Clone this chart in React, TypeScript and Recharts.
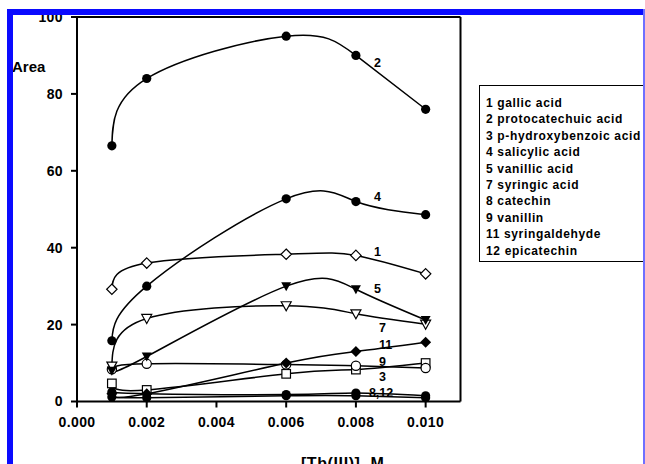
import { LineChart, Line, XAxis, YAxis, ReferenceLine, LabelList, Legend } from 'recharts'

// Th(III) concentration, M
const conc = [0.001, 0.002, 0.006, 0.008, 0.01]

// peak areas
const gallicAcid = [29.2, 36, 38.3, 38, 33.2]
const protocatechuicAcid = [66.5, 84, 95, 90, 76]
const hydroxybenzoicAcid = [4.7, 3, 7.2, 8.3, 10]
const salicylicAcid = [15.8, 30, 52.7, 52, 48.6]
const vanillicAcid = [8, 11.7, 30, 29.2, 21.2]
const syringicAcid = [9.2, 21.6, 24.9, 22.8, 20.1]
const catechin = [2.5, 2, 1.8, 2.2, 1.5]
const vanillin = [8.4, 9.8, 9.6, 9.3, 8.7]
const syringaldehyde = [2, 2, 10, 13, 15.4]
const epicatechin = [1.2, 1, 1.5, 1.5, 1]

const legendNames = [
  '1 gallic acid',
  '2 protocatechuic acid',
  '3 p-hydroxybenzoic acid',
  '4 salicylic acid',
  '5 vanillic acid',
  '7 syringic acid',
  '8 catechin',
  '9 vanillin',
  '11 syringaldehyde',
  '12 epicatechin',
]

const xTicks = [0, 0.002, 0.004, 0.006, 0.008, 0.01]
const yTicks = [0, 20, 40, 60, 80, 100]

type MarkerKind = 'dot' | 'ring' | 'diamond' | 'openDiamond' | 'tri' | 'openTri' | 'square'

// drawn bottom to top
const series: { key: string; values: number[]; marker: MarkerKind; tag?: string; dx?: number; dy?: number }[] = [
  { key: 's12', values: epicatechin, marker: 'dot' },
  { key: 's8', values: catechin, marker: 'dot', tag: '8,12', dx: 13, dy: -1 },
  { key: 's3', values: hydroxybenzoicAcid, marker: 'square', tag: '3', dx: 23, dy: 6 },
  { key: 's9', values: vanillin, marker: 'ring', tag: '9', dx: 23, dy: -5 },
  { key: 's11', values: syringaldehyde, marker: 'diamond', tag: '11', dx: 23, dy: -8 },
  { key: 's7', values: syringicAcid, marker: 'openTri', tag: '7', dx: 23, dy: 13 },
  { key: 's5', values: vanillicAcid, marker: 'tri', tag: '5', dx: 18, dy: -1 },
  { key: 's1', values: gallicAcid, marker: 'openDiamond', tag: '1', dx: 18, dy: -4 },
  { key: 's4', values: salicylicAcid, marker: 'dot', tag: '4', dx: 18, dy: -6 },
  { key: 's2', values: protocatechuicAcid, marker: 'dot', tag: '2', dx: 18, dy: 7 },
]

const data = conc.map((c, i) => {
  const row: Record<string, number> = { conc: c }
  series.forEach((s) => {
    row[s.key] = s.values[i]
  })
  return row
})

const FONT = '"Liberation Sans", Arial, sans-serif'

function Marker({ cx, cy, kind }: { cx?: number; cy?: number; kind: MarkerKind }) {
  if (cx == null || cy == null) return null
  const sw = 1.2
  switch (kind) {
    case 'dot':
      return <circle cx={cx} cy={cy} r={4.6} fill="#000" />
    case 'ring':
      return <circle cx={cx} cy={cy} r={4.6} fill="#fff" stroke="#000" strokeWidth={sw} />
    case 'diamond':
      return <polygon points={`${cx},${cy - 5.5} ${cx + 5.5},${cy} ${cx},${cy + 5.5} ${cx - 5.5},${cy}`} fill="#000" />
    case 'openDiamond':
      return (
        <polygon
          points={`${cx},${cy - 5.2} ${cx + 5.2},${cy} ${cx},${cy + 5.2} ${cx - 5.2},${cy}`}
          fill="#fff"
          stroke="#000"
          strokeWidth={sw}
        />
      )
    case 'tri':
      return <polygon points={`${cx - 5},${cy - 4} ${cx + 5},${cy - 4} ${cx},${cy + 5}`} fill="#000" />
    case 'openTri':
      return (
        <polygon
          points={`${cx - 5},${cy - 4} ${cx + 5},${cy - 4} ${cx},${cy + 5}`}
          fill="#fff"
          stroke="#000"
          strokeWidth={sw}
        />
      )
    case 'square':
      return <rect x={cx - 4.3} y={cy - 4.3} width={8.6} height={8.6} fill="#fff" stroke="#000" strokeWidth={sw} />
  }
  return null
}

function LegendBox() {
  return (
    <div
      style={{
        border: '1.5px solid #000',
        background: '#fff',
        padding: '9px 0 2px 6px',
        width: 180,
        fontFamily: FONT,
        fontWeight: 'bold',
        fontSize: 12,
        letterSpacing: 0.65,
        lineHeight: '16.4px',
        color: '#000',
        whiteSpace: 'nowrap',
        boxSizing: 'border-box',
      }}
    >
      {legendNames.map((n) => (
        <div key={n}>{n}</div>
      ))}
    </div>
  )
}

export default function App() {
  return (
    <div
      style={{
        position: 'absolute',
        left: 0,
        top: 0,
        width: 645,
        height: 464,
        background: '#fff',
        overflow: 'hidden',
      }}
    >
      <LineChart width={645} height={464} data={data} margin={{ top: 17, right: 184.5, bottom: 2.5, left: 17 }}>
        <XAxis
          dataKey="conc"
          type="number"
          domain={[0, 0.011]}
          ticks={xTicks}
          tickFormatter={(v: number) => v.toFixed(3)}
          height={60}
          tickSize={6}
          tickMargin={10}
          axisLine={{ stroke: '#000', strokeWidth: 2 }}
          tickLine={{ stroke: '#000', strokeWidth: 2 }}
          tick={{ fill: '#000', fontSize: 14, fontWeight: 'bold', fontFamily: FONT, letterSpacing: 0.4 }}
          label={{
            content: ({ viewBox }: any) => (
              <text
                x={viewBox.x + viewBox.width / 2 + 74}
                y={469}
                textAnchor="middle"
                fontFamily={FONT}
                fontWeight="bold"
                fontSize={16}
                letterSpacing={0.6}
                fill="#000"
              >
                [Tb(III)], M
              </text>
            ),
          }}
        />
        <YAxis
          type="number"
          domain={[0, 100]}
          ticks={yTicks}
          width={60}
          tickSize={6}
          tickMargin={8}
          axisLine={{ stroke: '#000', strokeWidth: 2 }}
          tickLine={{ stroke: '#000', strokeWidth: 2 }}
          tick={{ fill: '#000', fontSize: 14, fontWeight: 'bold', fontFamily: FONT, letterSpacing: 0.4 }}
        />
        <ReferenceLine y={100} stroke="#000" strokeWidth={2} />
        <ReferenceLine x={0.011} stroke="#000" strokeWidth={2} />
        <Legend
          layout="vertical"
          align="center"
          verticalAlign="middle"
          wrapperStyle={{ left: 479, top: 85, width: 180 }}
          content={() => <LegendBox />}
        />
        {series.map((s) => (
          <Line
            key={s.key}
            dataKey={s.key}
            type="natural"
            stroke="#000"
            strokeWidth={1.5}
            isAnimationActive={false}
            legendType="none"
            dot={(p: any) => <Marker key={`${s.key}-${p.index}`} cx={p.cx} cy={p.cy} kind={s.marker} />}
            activeDot={false}
          >
            {s.tag && (
              <LabelList
                dataKey={s.key}
                content={(p: any) =>
                  p.index === 3 ? (
                    <text
                      x={p.x + (s.dx ?? 0)}
                      y={p.y + (s.dy ?? 0)}
                      dy={5}
                      fontFamily={FONT}
                      fontWeight="bold"
                      fontSize={12.5}
                      fill="#000"
                    >
                      {s.tag}
                    </text>
                  ) : null
                }
              />
            )}
          </Line>
        ))}
        <text x={12} y={72} fontFamily={FONT} fontWeight="bold" fontSize={15} fill="#000">
          Area
        </text>
      </LineChart>
      {/* blue frame of the scanned figure */}
      <div style={{ position: 'absolute', left: 7, top: 9, width: 638, height: 6, background: '#0a0aff' }} />
      <div style={{ position: 'absolute', left: 7, top: 9, width: 6, height: 455, background: '#0a0aff' }} />
      <div style={{ position: 'absolute', left: 643, top: 9, width: 2, height: 455, background: '#6f6fff' }} />
    </div>
  )
}
